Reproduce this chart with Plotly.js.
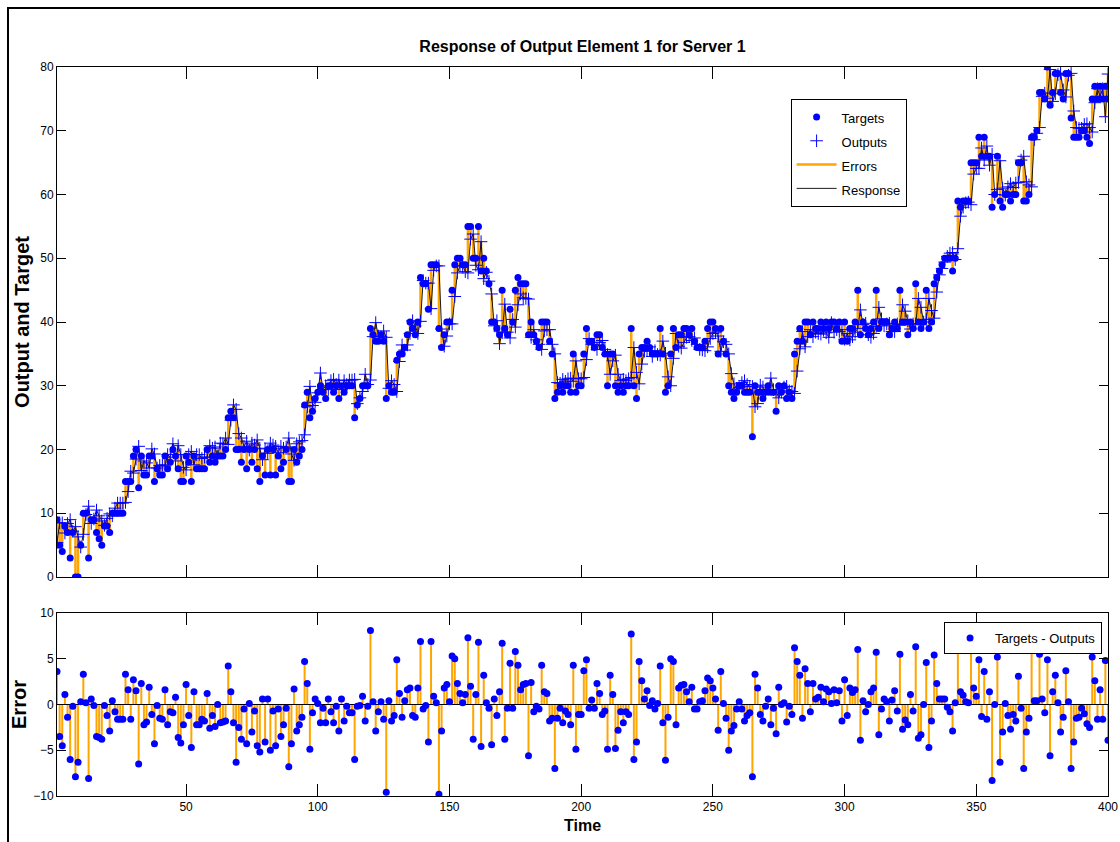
<!DOCTYPE html>
<html>
<head>
<meta charset="utf-8">
<script src="https://cdn.plot.ly/plotly-3.0.1.min.js"></script>
<style>
  html, body { margin: 0; padding: 0; background: #fff; }
  #chart { width: 1120px; height: 842px; }
  #frame { position: absolute; left: 7px; top: 7px; width: 1300px; height: 1000px;
           border-left: 2px solid #000; border-top: 2px solid #000; pointer-events: none; }
</style>
</head>
<body>
<div id="chart"></div>
<div id="frame"></div>
<script>
// Target values for each time step (1..400)
const targets = [
  9, 5, 4, 8, 7, 3, 7, 0, 0, 5,
  10, 10, 3, 9, 9, 7, 6, 5, 8, 8,
  7, 10, 10, 10, 10, 10, 15, 15, 15, 19,
  20, 14, 19, 16, 16, 19, 19, 15, 17, 16,
  16, 19, 17, 18, 20, 19, 17, 15, 15, 19,
  18, 15, 19, 17, 17, 17, 17, 20, 18, 19,
  18, 19, 19, 19, 20, 25, 26, 25, 20, 20,
  18, 20, 17, 20, 18, 20, 17, 15, 19, 16,
  20, 16, 20, 16, 19, 17, 18, 20, 15, 15,
  20, 18, 19, 20, 27, 29, 25, 26, 28, 29,
  30, 29, 28, 30, 30, 29, 30, 28, 30, 29,
  30, 30, 30, 25, 27, 28, 30, 30, 30, 39,
  38, 37, 37, 38, 37, 28, 30, 29, 29, 34,
  35, 35, 36, 38, 40, 39, 38, 40, 47, 46,
  46, 42, 49, 49, 49, 39, 36, 38, 40, 40,
  45, 49, 50, 50, 49, 49, 55, 55, 50, 50,
  55, 48, 50, 48, 46, 40, 40, 39, 38, 45,
  39, 38, 42, 40, 45, 47, 46, 46, 46, 38,
  40, 38, 37, 36, 40, 40, 40, 37, 35, 28,
  29, 30, 29, 30, 30, 29, 35, 29, 30, 30,
  35, 39, 37, 37, 36, 38, 38, 36, 35, 30,
  35, 35, 30, 29, 30, 29, 30, 30, 39, 30,
  28, 35, 36, 36, 37, 36, 35, 35, 35, 39,
  35, 29, 30, 35, 39, 36, 38, 38, 39, 39,
  38, 39, 37, 36, 36, 36, 37, 39, 40, 40,
  39, 35, 39, 37, 35, 30, 29, 28, 29, 30,
  30, 29, 29, 29, 22, 30, 29, 29, 28, 29,
  30, 29, 29, 26, 30, 29, 30, 28, 29, 28,
  35, 37, 39, 37, 40, 40, 38, 40, 39, 39,
  40, 39, 40, 39, 40, 40, 39, 40, 37, 40,
  37, 39, 39, 40, 45, 38, 40, 39, 38, 39,
  40, 45, 39, 40, 40, 40, 38, 39, 40, 39,
  45, 40, 40, 38, 40, 39, 46, 40, 39, 40,
  45, 39, 40, 46, 47, 48, 49, 50, 50, 50,
  48, 50, 59, 58, 59, 59, 59, 65, 65, 65,
  69, 66, 69, 66, 66, 58, 60, 66, 59, 58,
  60, 60, 59, 60, 60, 65, 65, 59, 59, 60,
  69, 69, 70, 76, 76, 75, 80, 74, 76, 79,
  79, 76, 75, 79, 79, 72, 69, 69, 69, 70,
  70, 69, 68, 75, 77, 75, 77, 75, 77, 75
];

// Error (target minus output) for each time step
const errors = [
  3.6, -3.5, -4.5, 1.1, -1.4, -6.0, -0.2, -7.9, -6.3, 0.3,
  3.3, 0.2, -8.1, 0.6, -0.1, -3.5, -3.6, -3.8, -0.1, -1.2,
  -2.9, 0.4, -0.8, -1.6, -1.6, -1.6, 3.3, 1.6, -1.6, 2.7,
  1.5, -6.5, 2.3, -2.2, -1.9, 1.9, -1.1, -4.3, -0.1, -1.5,
  -1.6, 1.6, -2.2, -0.8, -0.9, 0.8, -3.6, -4.2, -2.2, 2.2,
  -1.2, -4.7, 1.4, -2.2, -2.2, -1.6, -1.8, 1.2, -2.6, -1.2,
  -2.4, 0.0, -2.0, -1.9, -1.8, 4.2, 1.4, -2.0, -6.3, -2.5,
  -3.8, -0.5, -4.3, 0.1, -3.0, -0.7, -4.5, -5.2, 0.6, -4.1,
  0.6, -5.0, -0.7, -4.5, -0.5, -3.5, -2.2, -0.4, -6.8, -4.3,
  1.7, -2.9, -2.2, -1.4, 4.7, 2.3, -4.9, -0.9, 0.6, 0.1,
  -2.0, -0.4, -2.0, 0.6, -0.8, -2.0, -0.2, -2.9, 0.6, -1.8,
  -0.2, -0.9, -0.9, -6.0, -0.2, -0.1, 0.9, -1.8, -0.2, 8.1,
  0.3, -2.9, -0.8, 0.3, -1.6, -9.6, 0.4, -1.8, -1.2, 4.9,
  1.2, -1.4, 0.4, 1.6, 1.8, -1.2, -1.4, 1.8, 6.9, -0.5,
  -0.1, -4.1, 6.9, 0.9, 0.2, -9.8, -2.9, 1.8, 2.2, 0.3,
  5.3, 5.0, 2.3, 1.2, 0.2, 1.1, 7.3, 2.0, -3.8, 1.1,
  6.8, -4.6, 3.2, 0.2, -0.4, -4.4, 0.6, -1.2, 1.4, 6.7,
  -3.8, -0.4, 4.5, -0.4, 5.8, 4.3, 1.6, 2.2, 2.3, -5.6,
  2.4, -0.8, -0.2, -0.5, 4.3, 1.4, 1.2, -1.8, -1.5, -7.0,
  -1.5, -0.4, -2.0, -0.7, -1.1, -2.2, 4.3, -4.9, -1.1, -1.1,
  3.7, 4.9, -0.4, 0.5, -0.4, 2.3, 1.2, -1.1, -0.7, -4.9,
  3.2, 1.1, -4.8, -2.8, -0.8, -2.0, -0.8, -1.1, 7.7, -6.0,
  -4.1, 4.7, 2.6, 0.6, 1.5, -0.1, 0.4, -0.5, 0.1, 4.2,
  -2.0, -6.1, -1.4, 5.0, 4.7, -2.2, 1.8, 2.1, 2.2, 1.4,
  0.3, 1.9, -0.5, -0.5, 0.3, 0.4, 1.5, 2.9, 2.6, 1.8,
  0.6, -2.8, 3.6, 0.1, -1.5, -5.0, -2.9, -2.3, -0.5, 0.3,
  -0.5, -1.8, -1.2, -0.9, -7.9, 3.3, 1.8, -1.1, -1.8, -0.2,
  0.6, -2.2, -0.4, -3.2, 1.9, 0.0, 0.2, -1.9, -0.2, -1.1,
  6.2, 4.7, 3.2, -1.5, 3.9, 2.3, -0.8, 2.3, 0.6, 0.8,
  1.9, 0.3, 1.7, 1.4, 0.1, 1.6, 0.2, 1.5, -1.8, 2.7,
  -1.2, 1.8, 1.3, 1.6, 6.0, -3.9, 0.4, -0.8, 0.0, 1.4,
  1.8, 5.7, -3.3, -0.5, 0.6, 0.3, -1.8, 0.5, 1.5, -0.7,
  5.5, -2.7, -1.7, -2.2, 1.1, -0.7, 6.3, -3.7, -3.3, 0.0,
  4.6, -4.7, -1.8, 5.4, 2.3, 0.6, 0.6, 0.6, -0.3, -0.8,
  -2.9, 0.2, 7.5, 1.4, 1.0, 0.3, 0.2, 6.6, 1.8, 0.9,
  4.9, -1.3, 3.6, -1.6, 1.4, -8.3, 0.0, 5.2, -6.3, -3.0,
  0.1, -1.2, -2.7, -1.1, -1.8, 3.1, -0.4, -7.0, -3.0, -1.5,
  7.8, 0.4, 0.4, 5.5, 0.6, -0.9, 4.9, -5.6, 1.4, 3.2,
  0.2, -3.0, -1.4, 3.7, 0.3, -7.0, -4.1, -1.5, -1.4, -0.4,
  -1.0, -2.1, -2.5, 5.2, 2.6, -1.6, 1.6, -1.6, 4.8, -3.9
];

const timeTicks = [50, 100, 150, 200, 250, 300, 350, 400];
const outputTicks = [0, 10, 20, 30, 40, 50, 60, 70, 80];
const errorTicks = [-10, -5, 0, 5, 10];

// Sample index and network outputs
const time = targets.map((_, i) => i + 1);
const outputs = targets.map((t, i) => +(t - errors[i]).toFixed(2));

// Vertical segments: target -> output (upper panel), 0 -> error (lower panel)
const segX = [], segY = [], stemX = [], stemY = [];
time.forEach((t, i) => {
  segX.push(t, t, null); segY.push(targets[i], outputs[i], null);
  stemX.push(t, t, null); stemY.push(0, errors[i], null);
});

const FONT = 'Liberation Sans, Arial, Helvetica, sans-serif';
const BLUE = '#0000ff';
const ORANGE = '#ffa500';
// legend labels are drawn at 13px inside a taller legend row
const lbl = s => '<span style="font-size:13px">' + s + '</span>';

const traces = [
  { x: segX, y: segY, mode: 'lines', name: lbl('Errors'), legendrank: 3,
    line: { color: ORANGE, width: 2.5 }, xaxis: 'x', yaxis: 'y', hoverinfo: 'skip' },
  { x: time, y: outputs, mode: 'lines', name: lbl('Response'), legendrank: 4,
    line: { color: '#000', width: 0.9 }, xaxis: 'x', yaxis: 'y' },
  { x: time, y: targets, mode: 'markers', name: lbl('Targets'), legendrank: 1,
    marker: { color: BLUE, size: 7, symbol: 'circle' }, xaxis: 'x', yaxis: 'y' },
  { x: time, y: outputs, mode: 'markers', name: lbl('Outputs'), legendrank: 2,
    marker: { color: BLUE, size: 9, symbol: 'cross-thin', line: { color: BLUE, width: 1 } },
    xaxis: 'x', yaxis: 'y' },
  { x: stemX, y: stemY, mode: 'lines', showlegend: false,
    line: { color: ORANGE, width: 2 }, xaxis: 'x2', yaxis: 'y2', hoverinfo: 'skip' },
  { x: [1, 400], y: [0, 0], mode: 'lines', showlegend: false,
    line: { color: '#000', width: 1 }, xaxis: 'x2', yaxis: 'y2', hoverinfo: 'skip' },
  { x: time, y: errors, mode: 'markers', name: 'Targets - Outputs', legend: 'legend2',
    marker: { color: BLUE, size: 7, symbol: 'circle' }, xaxis: 'x2', yaxis: 'y2' }
];

const axisCommon = {
  showline: true, linecolor: '#000', linewidth: 1, mirror: 'ticks',
  ticks: 'inside', tickcolor: '#000', tickwidth: 1, showgrid: false, zeroline: false,
  tickfont: { family: FONT, size: 12, color: '#000' }
};

const layout = {
  width: 1120, height: 842,
  paper_bgcolor: '#fff', plot_bgcolor: '#fff',
  margin: { l: 57, r: 12, t: 67, b: 46, pad: 0 },
  font: { family: FONT, color: '#000' },
  title: { text: '<b>Response of Output Element 1 for Server 1</b>',
           font: { family: FONT, size: 16, color: '#000' },
           x: 0.5, xref: 'paper', xanchor: 'center', y: 1 - 46 / 842, yref: 'container', yanchor: 'middle' },
  xaxis: Object.assign({}, axisCommon, {
    domain: [0, 1], range: [1, 400], anchor: 'y', tickvals: timeTicks,
    showticklabels: false, ticklen: 12 }),
  yaxis: Object.assign({}, axisCommon, {
    domain: [0.3004, 1], range: [0, 80], anchor: 'x', tickvals: outputTicks, ticklen: 9,
    title: { text: '<b>Output and Target</b>', font: { family: FONT, size: 20 }, standoff: 5 } }),
  xaxis2: Object.assign({}, axisCommon, {
    domain: [0, 1], range: [1, 400], anchor: 'y2', tickvals: timeTicks, ticklen: 12,
    title: { text: '<b>Time</b>', font: { family: FONT, size: 16 }, standoff: 6 } }),
  yaxis2: Object.assign({}, axisCommon, {
    domain: [0, 0.251], range: [-10, 10], anchor: 'x2', tickvals: errorTicks, ticklen: 9,
    title: { text: '<b>Error</b>', font: { family: FONT, size: 20 }, standoff: 1 } }),
  legend: {
    x: 0.698, y: 0.956, xanchor: 'left', yanchor: 'top',
    bgcolor: '#fff', bordercolor: '#000', borderwidth: 1,
    font: { family: FONT, size: 16, color: '#000' }, itemwidth: 40, tracegroupgap: 0
  },
  legend2: {
    x: 0.844, y: 0.2387, xanchor: 'left', yanchor: 'top',
    bgcolor: '#fff', bordercolor: '#000', borderwidth: 1,
    font: { family: FONT, size: 13, color: '#000' }, itemwidth: 40
  },
  showlegend: true
};

Plotly.newPlot('chart', traces, layout, { displayModeBar: false, staticPlot: true });
</script>
</body>
</html>
